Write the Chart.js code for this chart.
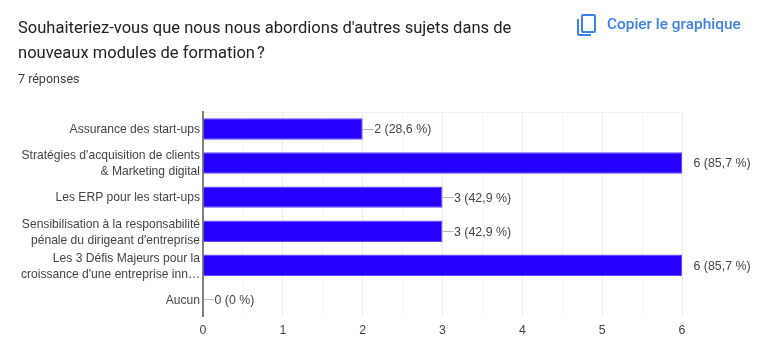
<!DOCTYPE html>
<html lang="fr">
<head>
<meta charset="utf-8">
<title>Souhaiteriez-vous</title>
<script src="https://cdn.jsdelivr.net/npm/chart.js@4"></script>
<style>
  html, body { margin: 0; padding: 0; background: #fff; }
  #page { position: relative; width: 768px; height: 364px; overflow: hidden; font-family: Roboto, sans-serif; }
  #chartBox { position: absolute; left: 0; top: 0; width: 768px; height: 364px; }
  #question { position: absolute; left: 18px; top: 15px; width: 540px; font-size: 16.55px; line-height: 25px; color: #202124; }
  #count { position: absolute; left: 18px; top: 71px; font-size: 12.5px; line-height: 16px; color: #3c4043; }
  #copy { position: absolute; left: 607px; top: 14px; font-size: 15.4px; line-height: 20px; font-weight: 500; color: #3b82e8; }
  #icon { position: absolute; left: 574px; top: 12px; }
</style>
</head>
<body>
<div id="page">
  <div id="chartBox"><canvas id="myChart"></canvas></div>
  <div id="question">Souhaiteriez-vous que nous nous abordions d'autres sujets dans de nouveaux modules de formation&#8239;?</div>
  <div id="count">7 réponses</div>
  <svg id="icon" width="24" height="26" viewBox="0 0 24 26">
    <path fill="none" stroke="#3b82e8" stroke-width="2" d="M9 3h11a1 1 0 0 1 1 1v15a1 1 0 0 1-1 1H9a1 1 0 0 1-1-1V4a1 1 0 0 1 1-1z"/>
    <path fill="none" stroke="#3b82e8" stroke-width="2" d="M4 7v15a1 1 0 0 0 1 1h12"/>
  </svg>
  <div id="copy">Copier le graphique</div>
</div>
<script>
// Data
const categories = [
  'Assurance des start-ups',
  ["Stratégies d'acquisition de clients", '& Marketing digital'],
  'Les ERP pour les start-ups',
  ['Sensibilisation à la responsabilité', "pénale du dirigeant d'entreprise"],
  ['Les 3 Défis Majeurs pour la', "croissance d'une entreprise inn…"],
  'Aucun',
];
const responses = [2, 6, 3, 3, 6, 0];
const valueLabels = ['2 (28,6 %)', '6 (85,7 %)', '3 (42,9 %)', '3 (42,9 %)', '6 (85,7 %)', '0 (0 %)'];

// Label next to each bar, with the little grey connector
const barLabels = {
  id: 'barLabels',
  afterDatasetsDraw(chart) {
    const c = chart.ctx;
    const meta = chart.getDatasetMeta(0);
    c.save();
    c.font = '12.4px "Liberation Sans"';
    c.textBaseline = 'middle';
    meta.data.forEach(function (bar, i) {
      const x = chart.scales.x.getPixelForValue(responses[i]);
      const y = bar.y;
      if (responses[i] < 6) {
        c.strokeStyle = '#b4b4b4';
        c.lineWidth = 1;
        c.beginPath();
        c.moveTo(x, Math.round(y) + 0.5);
        c.lineTo(x + 11, Math.round(y) + 0.5);
        c.stroke();
      }
      c.fillStyle = '#444444';
      c.fillText(valueLabels[i], x + 11.5, y + 1);
    });
    c.restore();
  },
};

Chart.defaults.font.family = '"Liberation Sans", Arial, sans-serif';

const SensorChart = new Chart(document.getElementById('myChart').getContext('2d'), {
  type: 'bar',
  data: {
    labels: categories,
    datasets: [{
      data: responses,
      backgroundColor: '#2500ff',
      borderColor: '#5f4dff',
      borderWidth: 1,
      barPercentage: 0.63,
      categoryPercentage: 1,
    }],
  },
  plugins: [barLabels],
  options: {
    indexAxis: 'y',
    responsive: true,
    maintainAspectRatio: false,
    animation: false,
    layout: { padding: { top: 112, right: 86, left: 0, bottom: 0 } },
    plugins: { legend: { display: false }, tooltip: { enabled: false } },
    scales: {
      x: {
        min: 0,
        max: 6,
        ticks: {
          stepSize: 0.5,
          autoSkip: false,
          maxRotation: 0,
          color: '#444444',
          padding: 7,
          font: { size: 12.3 },
          callback: function (v) { return Number.isInteger(v) ? v : ''; },
        },
        grid: {
          drawTicks: false,
          color: function (ctx) {
            return Number.isInteger(ctx.tick.value) ? '#ececec' : '#f6f6f6';
          },
        },
        border: { display: false },
        afterFit: function (scale) { scale.height = 47.7; },
      },
      y: {
        ticks: {
          color: '#444444',
          padding: 3,
          labelOffset: 1,
          autoSkip: false,
          font: { size: 12.1, lineHeight: 1.32 },
        },
        grid: {
          drawTicks: false,
          color: function (ctx) {
            return (ctx.index === 0 || ctx.index === categories.length) ? '#f0f0f0' : 'rgba(0,0,0,0)';
          },
        },
        border: { color: '#808080', width: 2 },
        afterFit: function (scale) { scale.width = 203; },
      },
    },
  },
});
</script>
</body>
</html>
